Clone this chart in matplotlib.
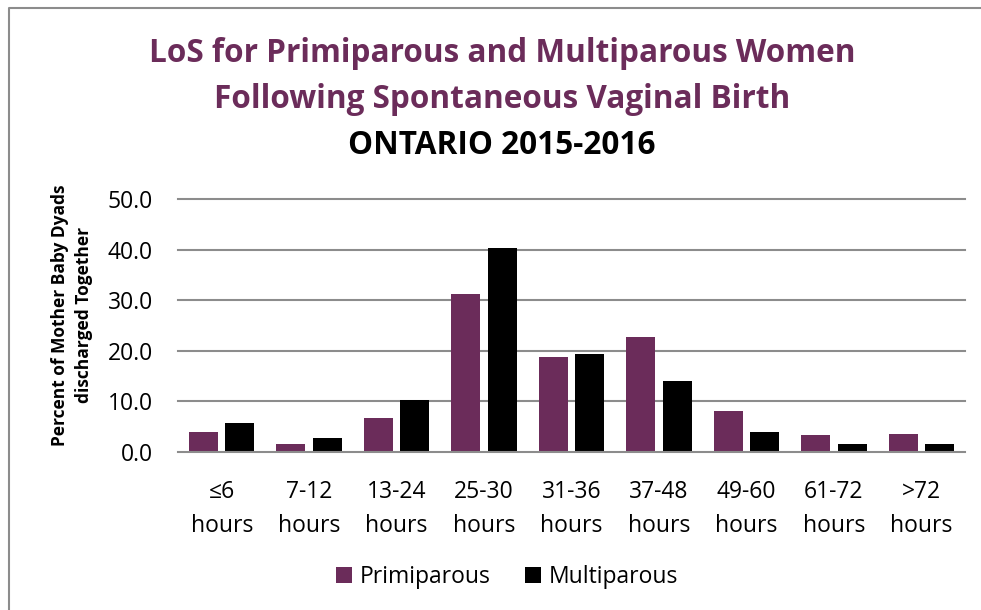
import numpy as np
import matplotlib.pyplot as plt
from matplotlib.lines import Line2D

# values (percent of dyads)
categories = ['≤6\nhours', '7-12\nhours', '13-24\nhours', '25-30\nhours', '31-36\nhours',
              '37-48\nhours', '49-60\nhours', '61-72\nhours', '>72\nhours']
primiparous = [4.0, 1.6, 6.7, 31.2, 18.8, 22.7, 8.2, 3.3, 3.5]
multiparous = [5.7, 2.8, 10.3, 40.3, 19.4, 14.1, 3.9, 1.6, 1.6]

purple = '#6B2C5A'
plt.rcParams['font.family'] = ['Open Sans', 'DejaVu Sans']

fig = plt.figure(figsize=(9.81, 6.1), dpi=100)
ax = fig.add_axes([178/981, 1-452/610, (965-178)/981, (452-199)/610])

x = np.arange(len(categories))
w = 0.332
ax.bar(x - 0.208, primiparous, w, color=purple, label='Primiparous', zorder=3)
ax.bar(x + 0.208, multiparous, w, color='black', label='Multiparous', zorder=3)

ax.set_xlim(-0.5, len(categories) - 0.5)
ax.set_ylim(0, 50)
ax.set_yticks(np.arange(0, 51, 10))
ax.set_yticklabels([f'{v:.1f}' for v in np.arange(0, 51, 10)], fontsize=16.5)
for v in np.arange(10, 51, 10):
    ax.axhline(v, color='#8c8c8c', lw=1.5, zorder=1, clip_on=False)
ax.axhline(0, color='#8c8c8c', lw=1.5, zorder=4, clip_on=False)
for s in ax.spines.values():
    s.set_visible(False)
ax.tick_params(axis='y', length=0, pad=18)
ax.tick_params(axis='x', length=0, pad=20)
ax.set_xticks(x)
ax.set_xticklabels(categories, fontsize=16.5, linespacing=1.55)

fig.text(72/981, 1-315/610, 'Percent of Mother Baby Dyads\ndischarged Together',
         rotation=90, ha='center', va='center', fontsize=12.5, fontweight='bold',
         linespacing=1.4)

fig.text(502/981, 1-53/610, 'LoS for Primiparous and Multiparous Women',
         ha='center', va='center', fontsize=22.7, fontweight='bold', color=purple)
fig.text(502/981, 1-100/610, 'Following Spontaneous Vaginal Birth',
         ha='center', va='center', fontsize=22.7, fontweight='bold', color=purple)
fig.text(502/981, 1-146/610, 'ONTARIO 2015-2016',
         ha='center', va='center', fontsize=22.7, fontweight='bold', color='black')

fig.legend(loc='center', bbox_to_anchor=(507/981, 1-577/610), ncol=2, frameon=False,
           fontsize=16.5, handlelength=0.7, handleheight=0.7, handletextpad=0.35,
           columnspacing=1.5)

# outer chart border (only left and top edges visible)
fig.lines.append(Line2D([9/981, 9/981, 1.0], [0, 1 - 8/610, 1 - 8/610],
                        transform=fig.transFigure, color='#8c8c8c', lw=1.5))

fig.savefig('out.png', dpi=100)
